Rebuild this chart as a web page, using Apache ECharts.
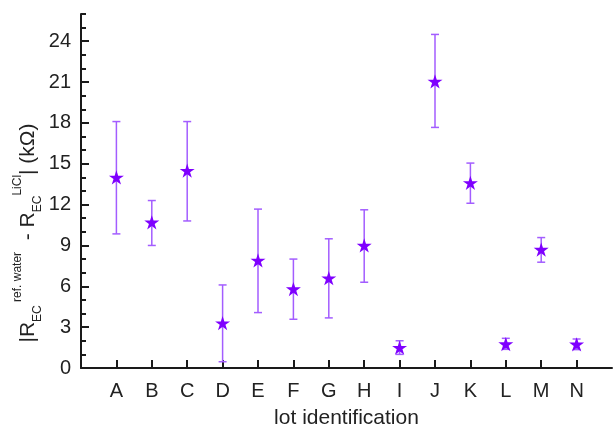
<!DOCTYPE html>
<html>
<head>
<meta charset="utf-8">
<script src="https://cdn.jsdelivr.net/npm/echarts@6/dist/echarts.min.js"></script>
<style>
html,body{margin:0;padding:0;background:#fff;}
#chart{width:613px;height:428px;}
</style>
</head>
<body>
<div id="chart"></div>
<script>
var categories = ['A','B','C','D','E','F','G','H','I','J','K','L','M','N'];
var values = [14.0, 10.7, 14.5, 3.3, 7.9, 5.8, 6.6, 9.0, 1.5, 21.05, 13.6, 1.76, 8.7, 1.74];
var lowerErr = [9.85, 9.0, 10.8, 0.46, 4.07, 3.58, 3.68, 6.3, 1.0, 17.67, 12.1, 1.37, 7.77, 1.35];
var upperErr = [18.1, 12.3, 18.1, 6.1, 11.67, 8.0, 9.49, 11.62, 2.0, 24.5, 15.05, 2.18, 9.58, 2.13];
var yTickLabels = [0, 3, 6, 9, 12, 15, 18, 21, 24];

var positions = categories.map(function (c, i) { return i + 1; });
var pointData = values.map(function (v, i) { return [positions[i], v]; });
var errData = values.map(function (v, i) { return [positions[i], lowerErr[i], upperErr[i]]; });

var FONT = 'Liberation Sans, Arial, sans-serif';
var AXIS_COLOR = '#1a1a1a';
var STAR = 'path://M50,0 L61.2,34.5 L97.6,34.5 L68.2,55.9 L79.4,90.5 L50,69.1 L20.6,90.5 L31.8,55.9 L2.4,34.5 L38.8,34.5 Z';

var chart = echarts.init(document.getElementById('chart'), null, {renderer: 'canvas'});
chart.setOption({
  backgroundColor: '#fff',
  animation: false,
  grid: {left: 81, right: 1, top: 14, bottom: 60, containLabel: false, outerBoundsMode: 'none'},
  xAxis: {
    type: 'value', min: 0, max: 15, interval: 1,
    name: 'lot identification', nameLocation: 'middle', nameGap: 40,
    nameTextStyle: {fontFamily: FONT, fontSize: 21, color: '#222'},
    axisLine: {show: true, onZero: false, lineStyle: {color: AXIS_COLOR, width: 2}},
    axisTick: {show: true, inside: true, length: 8, customValues: positions, lineStyle: {color: AXIS_COLOR, width: 2}},
    axisLabel: {
      show: true, margin: 13, customValues: positions,
      fontFamily: FONT, fontSize: 20, color: '#222',
      formatter: function (v) { return categories[Math.round(v) - 1] || ''; }
    },
    splitLine: {show: false}
  },
  yAxis: [{
    type: 'value', min: 0, max: 26, interval: 3,
    axisLine: {show: true, onZero: false, lineStyle: {color: AXIS_COLOR, width: 2}},
    axisTick: {show: true, inside: true, length: 8, customValues: yTickLabels, lineStyle: {color: AXIS_COLOR, width: 2}},
    axisLabel: {show: true, margin: 10, customValues: yTickLabels, fontFamily: FONT, fontSize: 20, color: '#222'},
    splitLine: {show: false}
  }, {
    type: 'value', min: 0, max: 26, interval: 1, position: 'left', offset: 0,
    axisLine: {show: false},
    axisTick: {show: true, inside: true, length: 5, lineStyle: {color: AXIS_COLOR, width: 2}},
    axisLabel: {show: false},
    splitLine: {show: false}
  }],
  graphic: [{
    type: 'text',
    x: 28, y: 233,
    rotation: Math.PI / 2,
    style: {
      text: '{m|\u007CR}{sub|EC}{sup| ref. water}{m|  - R}{sub|EC}{sup|LiCl}{m|\u007C (k\u03A9)}',
      align: 'center', verticalAlign: 'middle',
      fill: '#222',
      rich: {
        m: {fontFamily: FONT, fontSize: 21, lineHeight: 32, verticalAlign: 'middle', fill: '#222'},
        sub: {fontFamily: FONT, fontSize: 12, lineHeight: 12, verticalAlign: 'bottom', fill: '#222'},
        sup: {fontFamily: FONT, fontSize: 12, lineHeight: 14, verticalAlign: 'top', fill: '#222'}
      }
    }
  }],
  series: [{
    type: 'custom',
    data: errData,
    z: 2,
    renderItem: function (params, api) {
      var x = api.value(0);
      var lo = api.coord([x, api.value(1)]);
      var hi = api.coord([x, api.value(2)]);
      var hw = 4;
      var st = {stroke: '#a35dff', lineWidth: 1.5, fill: null};
      return {
        type: 'group',
        children: [
          {type: 'line', shape: {x1: lo[0], y1: lo[1], x2: hi[0], y2: hi[1]}, style: st},
          {type: 'line', shape: {x1: lo[0] - hw, y1: lo[1], x2: lo[0] + hw, y2: lo[1]}, style: st},
          {type: 'line', shape: {x1: hi[0] - hw, y1: hi[1], x2: hi[0] + hw, y2: hi[1]}, style: st}
        ]
      };
    }
  }, {
    type: 'scatter',
    data: pointData,
    z: 3,
    symbol: STAR,
    symbolSize: 15,
    symbolKeepAspect: true,
    itemStyle: {color: '#7f00ff', opacity: 1}
  }]
});
</script>
</body>
</html>
